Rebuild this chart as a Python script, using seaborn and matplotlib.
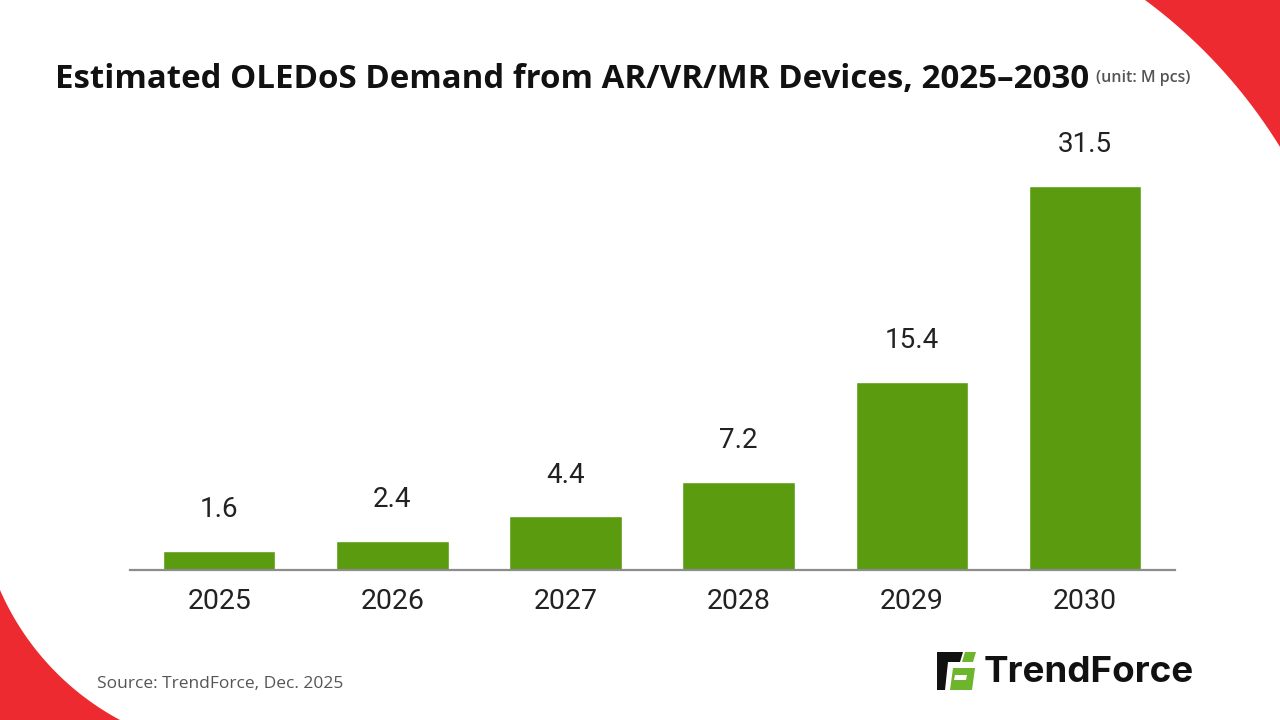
import numpy as np
import pandas as pd
import seaborn as sns
import matplotlib.pyplot as plt
from matplotlib.patches import Polygon

years = ['2025', '2026', '2027', '2028', '2029', '2030']
demand = [1.6, 2.4, 4.4, 7.2, 15.4, 31.5]
value_labels = ['1.6', '2.4', '4.4', '7.2', '15.4', '31.5']

title = 'Estimated OLEDoS Demand from AR/VR/MR Devices, 2025\u20132030'
unit = '(unit: M pcs)'
source = 'Source: TrendForce, Dec. 2025'

GREEN = '#5a9b0f'
RED = '#ee2a31'

sns.set_theme(style='white')
plt.rcParams['font.family'] = ['Roboto', 'DejaVu Sans']

df = pd.DataFrame({'year': years, 'demand': demand})

fig = plt.figure(figsize=(12.8, 7.2), dpi=100)
fig.patch.set_facecolor('white')


def corner_piece(p, q, r, corner_pt):
    # red corner bounded by a circular arc through p and q
    p, q, c0 = np.array(p, float), np.array(q, float), np.array(corner_pt, float)
    m = (p + q) / 2
    v = q - p
    h = np.hypot(*v) / 2
    n = np.array([-v[1], v[0]]) / (2 * h)
    d = np.sqrt(r ** 2 - h ** 2)
    cands = [m + d * n, m - d * n]
    c = max(cands, key=lambda z: np.hypot(*(z - c0)))
    a1 = np.arctan2(*(p - c)[::-1])
    a2 = np.arctan2(*(q - c)[::-1])
    if a2 - a1 > np.pi:
        a2 -= 2 * np.pi
    elif a1 - a2 > np.pi:
        a2 += 2 * np.pi
    t = np.linspace(a1, a2, 80)
    pts = np.column_stack([c[0] + r * np.cos(t), c[1] + r * np.sin(t)])
    return np.vstack([pts, c0])


# decoration layer in pixel coordinates
deco = fig.add_axes([0, 0, 1, 1], zorder=0)
deco.set_xlim(0, 1280)
deco.set_ylim(720, 0)
deco.axis('off')
deco.add_patch(Polygon(corner_piece((1145, 0), (1280, 147), 525, (1280, 0)),
                       closed=True, color=RED, lw=0))
deco.add_patch(Polygon(corner_piece((0, 590), (120, 720), 270, (0, 720)),
                       closed=True, color=RED, lw=0))

# TrendForce logo mark
deco.add_patch(Polygon([(937, 652), (963, 652), (960, 662), (937, 662)], color='#111111', lw=0))
deco.add_patch(Polygon([(937, 662), (948, 662), (945, 690), (937, 690)], color='#111111', lw=0))
deco.add_patch(Polygon([(965, 652), (976, 652), (973, 662), (962, 662)], color='#6cb52d', lw=0))
deco.add_patch(Polygon([(953, 668), (975, 668), (972, 690), (950, 690)], color='#6cb52d', lw=0))
deco.add_patch(Polygon([(955, 675), (967, 675), (966, 680), (954, 680)], color='white', lw=0))
deco.text(984, 682, 'TrendForce', fontsize=26.5, fontweight='bold', color='#111111',
          family=['Inter', 'DejaVu Sans'], va='baseline', ha='left')

# main chart
ax = fig.add_axes([0.1016, 0.2083, 0.8164, 0.6528], zorder=1)
ax.patch.set_alpha(0)
sns.barplot(data=df, x='year', y='demand', color=GREEN, width=0.65,
            saturation=1, ax=ax)
ax.set_xlim(-0.515, 5.52)
ax.set_ylim(0, 38.55)
ax.bar_label(ax.containers[0], labels=value_labels, padding=20,
             fontsize=20, color='#222222')

for s in ['top', 'right', 'left']:
    ax.spines[s].set_visible(False)
ax.spines['bottom'].set_color('#8c8c8c')
ax.spines['bottom'].set_linewidth(1.6)
ax.set_yticks([])
ax.tick_params(axis='x', length=0, pad=13, labelsize=20.5, labelcolor='#222222')
ax.set_xlabel('')
ax.set_ylabel('')

fig.text(55 / 1280, 1 - 88 / 720, title, fontsize=23.8, fontweight='bold',
         color='#111111', family=['Open Sans', 'DejaVu Sans'], va='baseline')
fig.text(1096 / 1280, 1 - 82 / 720, unit, fontsize=11.5, fontweight='semibold',
         color='#555555', family=['Open Sans', 'DejaVu Sans'], va='baseline')
fig.text(97 / 1280, 1 - 688 / 720, source, fontsize=12.5,
         color='#555555', family=['Open Sans', 'DejaVu Sans'], va='baseline')

fig.savefig('out.png', dpi=100, facecolor='white')
